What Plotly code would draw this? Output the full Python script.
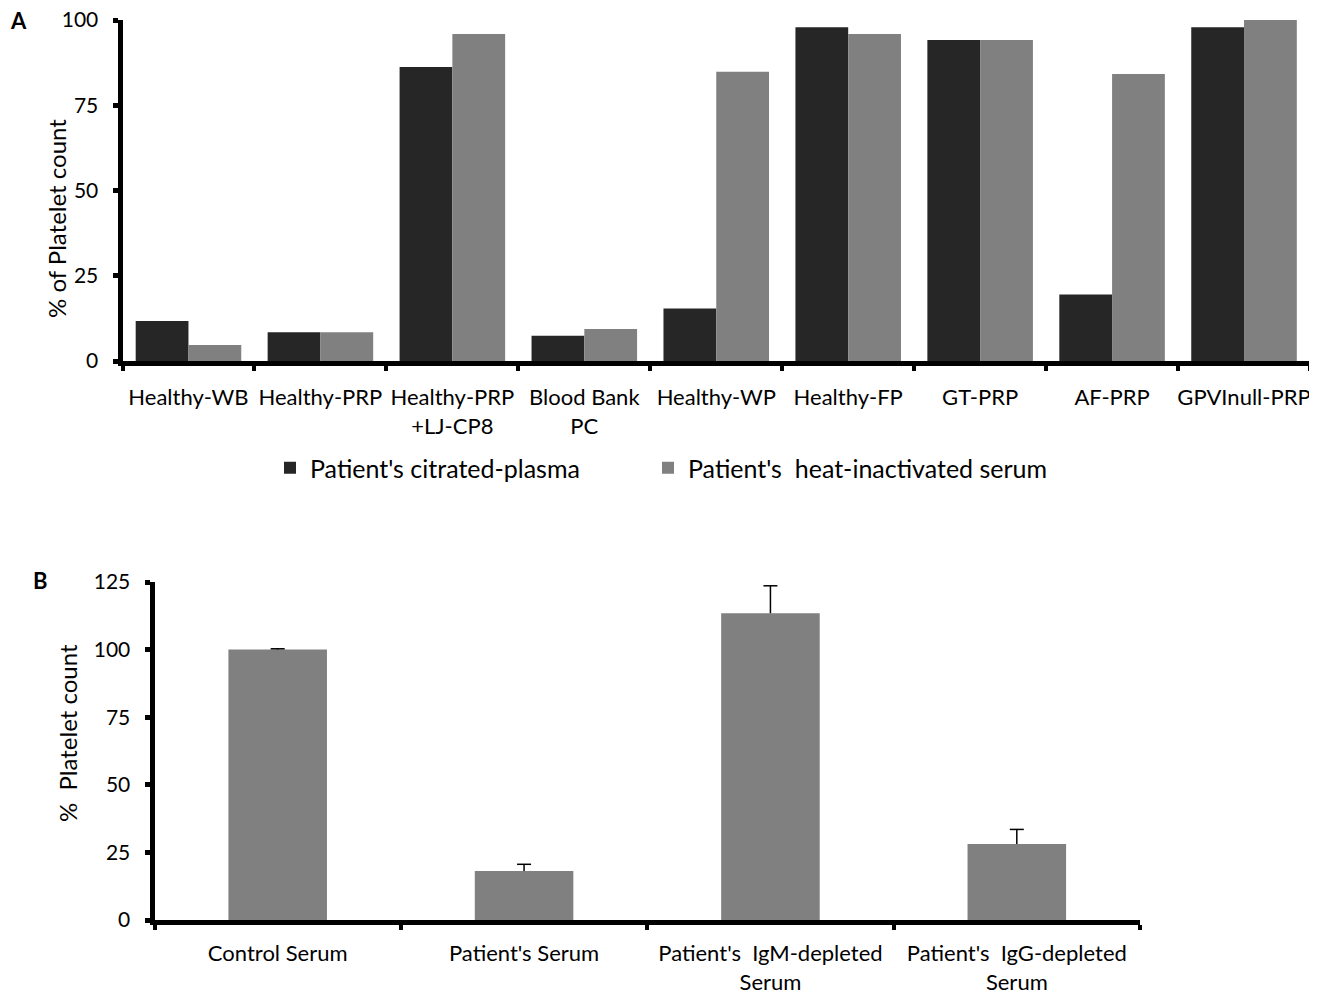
import plotly.graph_objects as go

# ---- Panel A data ----
cats_a = ["Healthy-WB", "Healthy-PRP", "Healthy-PRP<br>+LJ-CP8", "Blood Bank<br>PC",
          "Healthy-WP", "Healthy-FP", "GT-PRP", "AF-PRP", "GPVInull-PRP"]
plasma = [11.7, 8.4, 86.2, 7.4, 15.4, 97.9, 94.1, 19.5, 97.9]
serum = [4.7, 8.4, 95.9, 9.4, 84.8, 95.9, 94.1, 84.2, 100.0]
name_plasma = "Patient's citrated-plasma"
name_serum = "Patient's\u00a0 heat-inactivated serum"
yticks_a = [0, 25, 50, 75, 100]
ytitle_a = "% of Platelet count"

# ---- Panel B data ----
cats_b = ["Control Serum", "Patient's Serum", "Patient's\u00a0 IgM-depleted<br>Serum",
          "Patient's\u00a0 IgG-depleted<br>Serum"]
vals_b = [100.0, 18.1, 113.4, 28.1]
err_b = [0.3, 2.5, 10.2, 5.4]
yticks_b = [0, 25, 50, 75, 100, 125]
ytitle_b = "%\u00a0 Platelet count"

DARK = "#262626"
LIGHT = "#808080"
OFF = 8                 # page body margin
FW, FH = 1317 - OFF, 995 - OFF
FONT = "Lato"

fig = go.Figure()
fig.add_trace(go.Bar(x=cats_a, y=plasma, name=name_plasma, marker_color=DARK,
                     marker_line_width=0, xaxis="x", yaxis="y", legend="legend"))
fig.add_trace(go.Bar(x=cats_a, y=serum, name=name_serum, marker_color=LIGHT,
                     marker_line_width=0, xaxis="x", yaxis="y", legend="legend2"))
fig.add_trace(go.Bar(x=cats_b, y=vals_b, marker_color=LIGHT, marker_line_width=0,
                     width=0.4, offset=-0.2, showlegend=False,
                     error_y=dict(type="data", symmetric=False, array=err_b,
                                  arrayminus=[0] * len(err_b), color="black",
                                  thickness=1.5, width=0),
                     xaxis="x2", yaxis="y2"))
# caps on top of the error whiskers only
fig.add_trace(go.Scatter(x=cats_b, y=[v + e for v, e in zip(vals_b, err_b)],
                         mode="markers", showlegend=False, hoverinfo="skip",
                         marker=dict(symbol="line-ew", size=10,
                                     line=dict(color="black", width=1.5)),
                         xaxis="x2", yaxis="y2", cliponaxis=False))


def px(x):
    return (x - OFF) / FW


def py(y):
    return 1 - (y - OFF) / FH


line_common = dict(showline=True, linecolor="black", linewidth=5, showgrid=False,
                   zeroline=False, ticks="outside", tickcolor="black", automargin=False,
                   tickangle=0)
xfont = dict(family=FONT, size=22, color="black")
yfont = dict(family=FONT, size=21, color="black")
title_font = dict(family=FONT, size=24, color="black")
legend_common = dict(orientation="h", xanchor="left", yanchor="middle",
                     font=dict(family=FONT, size=25, color="black"),
                     itemsizing="constant", bgcolor="rgba(0,0,0,0)")

fig.update_layout(
    width=FW, height=FH,
    margin=dict(l=0, r=0, t=0, b=0, autoexpand=False),
    paper_bgcolor="white", plot_bgcolor="white",
    barmode="group", bargap=0.2, bargroupgap=0,
    font=dict(family=FONT, color="black"),
    xaxis=dict(domain=[px(122.5), px(1310)], anchor="y", tickson="boundaries",
               ticklen=5, tickwidth=4, tickfont=xfont, ticklabelstandoff=13, **line_common),
    yaxis=dict(domain=[py(361), py(20)], anchor="x", range=[0, 100],
               tickvals=yticks_a, ticklen=5, tickwidth=5, tickfont=yfont,
               ticklabelstandoff=10, **line_common),
    xaxis2=dict(domain=[px(154.5), px(1140)], anchor="y2", tickson="boundaries",
                ticklen=5, tickwidth=4, tickfont=xfont, ticklabelstandoff=10, **line_common),
    yaxis2=dict(domain=[py(920), py(582)], anchor="x2", range=[0, 125],
                tickvals=yticks_b, ticklen=5, tickwidth=5, tickfont=yfont,
                ticklabelstandoff=10, **line_common),
    legend=dict(x=px(270), y=py(468), **legend_common),
    legend2=dict(x=px(648), y=py(468), **legend_common),
    annotations=[
        dict(text="<b>A</b>", x=px(18), y=py(20), xref="paper", yref="paper",
             xanchor="center", yanchor="middle", showarrow=False,
             font=dict(family=FONT, size=22, color="black")),
        dict(text="<b>B</b>", x=px(40), y=py(580), xref="paper", yref="paper",
             xanchor="center", yanchor="middle", showarrow=False,
             font=dict(family=FONT, size=22, color="black")),
        dict(text=ytitle_a, x=px(56), y=py(219), xref="paper", yref="paper",
             xanchor="center", yanchor="middle", textangle=-90, showarrow=False,
             font=title_font),
        dict(text=ytitle_b, x=px(67), y=py(733), xref="paper", yref="paper",
             xanchor="center", yanchor="middle", textangle=-90, showarrow=False,
             font=title_font),
    ],
)

fig.write_html("out.html")
